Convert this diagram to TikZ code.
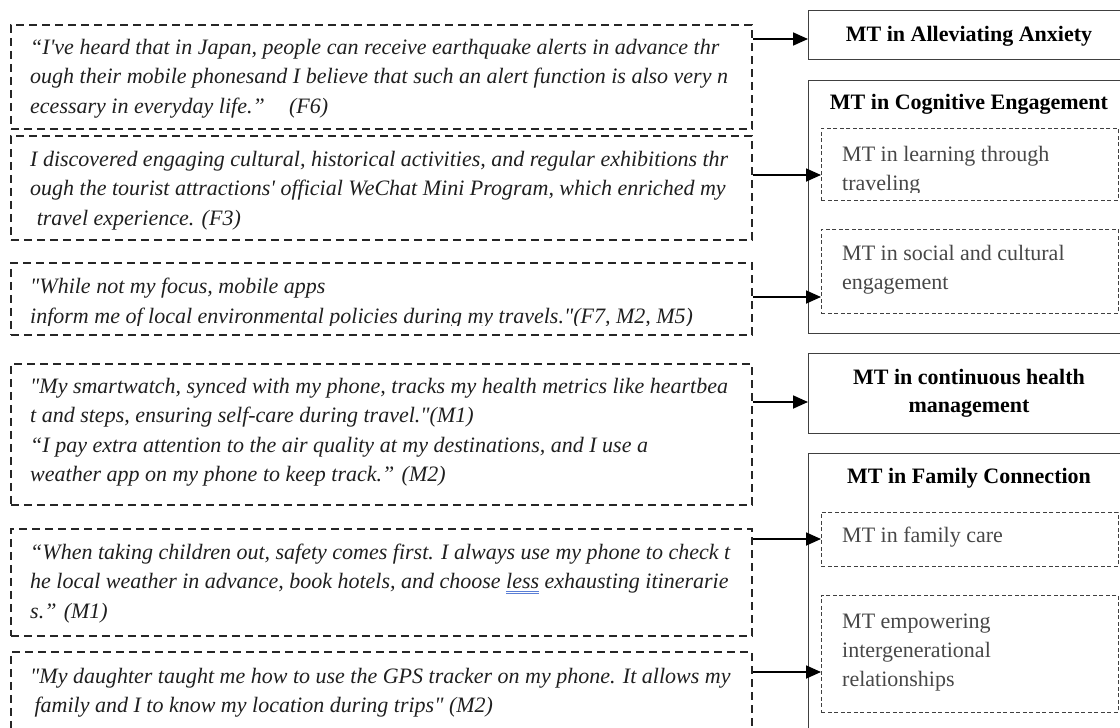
\documentclass[tikz,border=0pt]{standalone}
\usepackage{fontspec}
\newfontfamily\qfont{Liberation Serif}
\usetikzlibrary{arrows.meta}
\definecolor{ulblue}{HTML}{5B7FD6}
% blue double underline, as a grammar checker marks a word
\newcommand\gramline[1]{\setbox0=\hbox{#1}%
  \rlap{\color{ulblue}\rule[-5.4pt]{\wd0}{1pt}}%
  \rlap{\color{ulblue}\rule[-3.2pt]{\wd0}{1pt}}\box0\relax}
\begin{document}
% multi-line text nodes are placed by the baseline of their last line
\begin{tikzpicture}[x=1pt,y=-1pt,
  quotebox/.style={draw=black!85, line width=1.8pt, dash pattern=on 8pt off 5pt,
    minimum width=741pt, inner sep=0pt, anchor=north west},
  quote/.style={font=\qfont\itshape\fontsize{22}{29.5}\selectfont, text=black!88,
    align=left, inner sep=0pt, anchor=base west},
  theme/.style={draw=black!75, line width=1.2pt, minimum width=324pt,
    inner sep=0pt, anchor=north west},
  title/.style={font=\qfont\bfseries\fontsize{22}{28}\selectfont, align=center,
    inner sep=0pt, anchor=base},
  subbox/.style={draw=black!75, line width=0.9pt, dash pattern=on 4pt off 2.5pt,
    minimum width=297pt, inner sep=0pt, anchor=north west},
  subtext/.style={font=\qfont\fontsize{22}{29}\selectfont, text=black!72,
    align=left, inner sep=0pt, anchor=base west},
  link/.style={line width=1.8pt, -{Triangle[length=15pt,width=13pt]}}]
\useasboundingbox (0,0) rectangle (1120,728);

% ---------- quotations ----------
\node[quotebox, minimum height=104pt] (q1) at (10,24) {};
\node[quote] (t1) at (30,113) {“I've heard that in Japan, people can receive earthquake alerts in advance thr\\ough their mobile phonesand I believe that such an alert function is also very n\\ecessary in everyday life.”\hspace{1.1em}(F6)};

\node[quotebox, minimum height=104pt] (q2) at (10,135) {};
\node[quote] (t2) at (30,225) {I discovered engaging cultural, historical activities, and regular exhibitions thr\\ough the tourist attractions' official WeChat Mini Program, which enriched my\\\hspace{0.3em}travel experience. (F3)};

\node[quotebox, minimum height=72pt] (q3) at (10,262) {};
\begin{scope}
  \clip (q3.north west) rectangle ([yshift=10pt]q3.south east);
  \node[quote] (t3) at (30,323) {"While not my focus, mobile apps\\inform me of local environmental policies during my travels."(F7, M2, M5)};
\end{scope}

\node[quotebox, minimum height=141pt] (q4) at (10,363) {};
\node[quote] (t4) at (30,481.5) {"My smartwatch, synced with my phone, tracks my health metrics like heartbea\\t and steps, ensuring self-care during travel."(M1)\\“I pay extra attention to the air quality at my destinations, and I use a\\weather app on my phone to keep track.” (M2)};

\node[quotebox, minimum height=107pt] (q5) at (10,528) {};
\node[quote] (t5) at (30,618) {“When taking children out, safety comes first. I always use my phone to check t\\he local weather in advance, book hotels, and choose \gramline{less} exhausting itinerarie\\s.” (M1)};

\node[quotebox, minimum height=100pt] (q6) at (10,651) {};
\node[quote] (t6) at (30,712.5) {"My daughter taught me how to use the GPS tracker on my phone. It allows my\\\hspace{0.2em}family and I to know my location during trips" (M2)};

% ---------- themes ----------
\node[theme, minimum height=49pt] (r1) at (808,10) {};
\node[title] (r1t) at (969,41) {MT in Alleviating Anxiety};

\node[theme, minimum height=253pt] (r2) at (808,80) {};
\node[title] (r2t) at (969,109) {MT in Cognitive Engagement};
\node[subbox, minimum height=72pt] (s1) at (821,128) {};
\begin{scope}
  \clip (s1.north west) rectangle ([yshift=8pt]s1.south east);
  \node[subtext] (s1t) at (842,190) {MT in learning through\\traveling};
\end{scope}
\node[subbox, minimum height=84pt] (s2) at (821,229) {};
\node[subtext] (s2t) at (842,289) {MT in social and cultural\\engagement};

\node[theme, minimum height=80pt] (r3) at (808,353) {};
\node[title] (r3t) at (969,412) {MT in continuous health\\management};

\node[theme, minimum height=290pt] (r4) at (808,453) {};
\node[title] (r4t) at (969,483) {MT in Family Connection};
\node[subbox, minimum height=54pt] (s3) at (821,512) {};
\node[subtext] (s3t) at (842,542) {MT in family care};
\node[subbox, minimum height=117pt] (s4) at (821,595) {};
\node[subtext] (s4t) at (842,686) {MT empowering\\intergenerational\\relationships};

% ---------- links ----------
\draw[link] (q1.east |- 0,39)  -- (r1.west |- 0,39);
\draw[link] (q2.east |- 0,175) -- (s1.west |- 0,175);
\draw[link] (q3.east |- 0,297) -- (s2.west |- 0,297);
\draw[link] (q4.east |- 0,402) -- (r3.west |- 0,402);
\draw[link] (q5.east |- 0,539) -- (s3.west |- 0,539);
\draw[link] (q6.east |- 0,672) -- (s4.west |- 0,672);
\end{tikzpicture}
\end{document}
